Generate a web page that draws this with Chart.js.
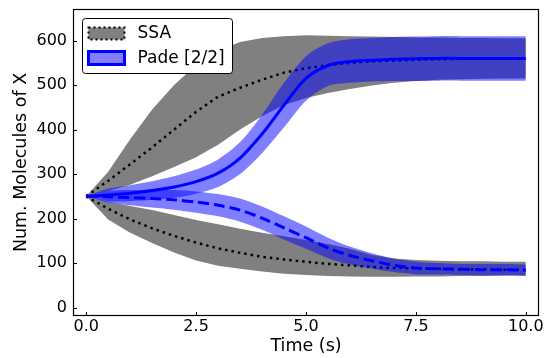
<!DOCTYPE html>
<html>
<head>
<meta charset="utf-8">
<script src="https://cdn.jsdelivr.net/npm/chart.js@4.4.0/dist/chart.umd.min.js"></script>
<style>
  html, body { margin: 0; padding: 0; background: #fff; }
</style>
</head>
<body>
<canvas id="chart" width="546" height="358"></canvas>
<script>
// sampled every 0.5 s
const times = [0, 0.5, 1, 1.5, 2, 2.5, 3, 3.5, 4, 4.5, 5, 5.5, 6, 6.5, 7, 7.5, 8, 8.5, 9, 9.5, 10];

// SSA, species going up
const ssaHighMean  = [250, 285, 322, 360, 400, 440, 474, 494, 512, 528, 538, 545, 550, 553, 555, 557, 558, 559, 559, 560, 560];
const ssaHighUpper = [250, 305, 378, 445, 500, 545, 578, 597, 606, 610, 612, 611, 610, 609, 608, 607, 607, 606, 606, 605, 605];
const ssaHighLower = [250, 262, 276, 295, 316, 338, 366, 400, 430, 455, 471, 482, 491, 499, 505, 509, 512, 513, 514, 515, 515];
// SSA, species going down
const ssaLowMean  = [250, 222, 198, 178, 161, 146, 133, 123, 114, 108, 103, 98, 95, 91, 89, 88, 87, 86, 86, 85, 85];
const ssaLowUpper = [250, 238, 228, 219, 208, 197, 187, 177, 168, 160, 152, 143, 132, 118, 110, 107, 105, 104, 104, 103, 103];
const ssaLowLower = [250, 198, 168, 145, 124, 106, 94, 87, 81, 76, 73, 71, 70, 69, 69, 70, 70, 71, 71, 72, 72];

// Pade [2/2]
const padeHighMean  = [250, 253, 257, 263, 271, 283, 302, 336, 390, 455, 515, 544, 553, 556, 558, 559, 560, 560, 560, 560, 560];
const padeHighUpper = [250, 267, 275, 284, 295, 310, 333, 372, 433, 505, 565, 594, 603, 606, 608, 609, 610, 610, 610, 610, 610];
const padeHighLower = [250, 239, 239, 242, 247, 256, 271, 300, 347, 405, 465, 498, 505, 508, 509, 509, 510, 510, 510, 510, 510];
const padeLowMean  = [250, 249, 247, 245, 242, 237, 230, 219, 201, 179, 157, 134, 117, 105, 95, 89, 87, 86, 85, 85, 84];
const padeLowUpper = [250, 262, 264, 265, 264, 261, 255, 245, 227, 205, 182, 157, 137, 122, 110, 103, 100, 98, 98, 98, 97];
const padeLowLower = [250, 236, 230, 225, 220, 213, 205, 193, 175, 153, 132, 111, 97, 88, 80, 75, 74, 73, 72, 72, 71];

const xTicks = [0, 2.5, 5, 7.5, 10];
const yTicks = [0, 100, 200, 300, 400, 500, 600];

const FONT = 'DejaVu Sans';
const GRAY = '#808080';
const BLUE = '#0000ff';
const BLUE_FILL = 'rgba(0, 0, 255, 0.5)';

function pts(ys) {
  return ys.map((y, i) => ({ x: times[i], y: y }));
}

function band(ys, color, fill, order, tension) {
  return {
    data: pts(ys),
    borderColor: 'transparent',
    borderWidth: 0,
    backgroundColor: color,
    fill: fill,
    pointRadius: 0,
    tension: tension,
    order: order
  };
}

function noPad(s) {
  s.paddingTop = 0; s.paddingBottom = 0;
  s.paddingLeft = 0; s.paddingRight = 0;
}

// inward ticks + full box frame
const framePlugin = {
  id: 'frame',
  afterDatasetsDraw(chart) {
    const { ctx, chartArea: a, scales } = chart;
    ctx.save();
    ctx.strokeStyle = '#000';
    ctx.lineWidth = 1;
    ctx.beginPath();
    xTicks.forEach(v => {
      const px = Math.round(scales.x.getPixelForValue(v)) + 0.5;
      ctx.moveTo(px, a.bottom);
      ctx.lineTo(px, a.bottom - 4);
    });
    yTicks.forEach(v => {
      const py = Math.round(scales.y.getPixelForValue(v)) + 0.5;
      ctx.moveTo(a.left, py);
      ctx.lineTo(a.left + 4, py);
    });
    ctx.stroke();
    ctx.lineWidth = 1.2;
    ctx.strokeRect(a.left + 0.5, a.top + 0.5, a.right - a.left - 1, a.bottom - a.top - 1);
    ctx.restore();
  }
};

const legendPlugin = {
  id: 'boxLegend',
  afterDraw(chart) {
    const { ctx, chartArea: a } = chart;
    const x0 = a.left + 9.5, y0 = a.top + 9.5, w = 150, h = 55, r = 3;
    ctx.save();
    ctx.beginPath();
    ctx.moveTo(x0 + r, y0);
    ctx.arcTo(x0 + w, y0, x0 + w, y0 + h, r);
    ctx.arcTo(x0 + w, y0 + h, x0, y0 + h, r);
    ctx.arcTo(x0, y0 + h, x0, y0, r);
    ctx.arcTo(x0, y0, x0 + w, y0, r);
    ctx.closePath();
    ctx.fillStyle = '#fff';
    ctx.fill();
    ctx.strokeStyle = '#000';
    ctx.lineWidth = 1;
    ctx.stroke();

    // SSA patch
    ctx.fillStyle = GRAY;
    ctx.fillRect(x0 + 6, y0 + 9, 36, 12);
    ctx.setLineDash([2, 3]);
    ctx.lineWidth = 2;
    ctx.strokeStyle = '#000';
    ctx.strokeRect(x0 + 6, y0 + 9, 36, 12);
    ctx.setLineDash([]);

    // Pade patch
    ctx.fillStyle = BLUE_FILL;
    ctx.fillRect(x0 + 6, y0 + 33, 36, 13);
    ctx.lineWidth = 3;
    ctx.strokeStyle = BLUE;
    ctx.strokeRect(x0 + 6, y0 + 33, 36, 13);

    ctx.fillStyle = '#000';
    ctx.font = '17px "' + FONT + '"';
    ctx.textBaseline = 'middle';
    ctx.fillText('SSA', x0 + 55, y0 + 15);
    ctx.fillText('Pade [2/2]', x0 + 55, y0 + 40);
    ctx.restore();
  }
};

new Chart(document.getElementById('chart'), {
  type: 'line',
  data: {
    datasets: [
      band(ssaHighUpper, GRAY, '+1', 10, 0),
      band(ssaHighLower, GRAY, false, 10, 0),
      band(ssaLowUpper, GRAY, '+1', 10, 0),
      band(ssaLowLower, GRAY, false, 10, 0),
      {
        data: pts(ssaHighMean), borderColor: '#000', borderWidth: 2.5,
        borderDash: [2.5, 4], pointRadius: 0, tension: 0, fill: false, order: 8
      },
      {
        data: pts(ssaLowMean), borderColor: '#000', borderWidth: 2.5,
        borderDash: [2.5, 4], pointRadius: 0, tension: 0, fill: false, order: 8
      },
      band(padeHighUpper, BLUE_FILL, '+1', 6, 0.3),
      band(padeHighLower, BLUE_FILL, false, 6, 0.3),
      band(padeLowUpper, BLUE_FILL, '+1', 6, 0.3),
      band(padeLowLower, BLUE_FILL, false, 6, 0.3),
      {
        data: pts(padeHighMean), borderColor: BLUE, borderWidth: 3,
        pointRadius: 0, tension: 0.3, fill: false, order: 4
      },
      {
        data: pts(padeLowMean), borderColor: BLUE, borderWidth: 3, borderDash: [11, 5],
        pointRadius: 0, tension: 0.3, fill: false, order: 4
      }
    ]
  },
  options: {
    responsive: false,
    animation: false,
    devicePixelRatio: 1,
    layout: { padding: { top: 9, right: 7, left: 0, bottom: 0 } },
    plugins: { legend: { display: false }, tooltip: { enabled: false } },
    scales: {
      x: {
        type: 'linear', min: -0.3, max: 10.3,
        grid: { display: false, drawTicks: false },
        border: { display: false },
        afterBuildTicks: s => { s.ticks = xTicks.map(v => ({ value: v })); },
        afterFit: s => { s.height = 42; noPad(s); },
        ticks: {
          color: '#000', padding: 1, maxRotation: 0,
          font: { family: FONT, size: 16 },
          callback: v => v.toFixed(1)
        },
        title: {
          display: true, text: 'Time (s)', color: '#000',
          font: { family: FONT, size: 17.5 }, padding: { top: 0, bottom: 1.5 }
        }
      },
      y: {
        type: 'linear', min: -19, max: 671,
        grid: { display: false, drawTicks: false },
        border: { display: false },
        afterBuildTicks: s => { s.ticks = yTicks.map(v => ({ value: v })); },
        afterFit: s => { s.width = 73; noPad(s); },
        ticks: {
          color: '#000', padding: 6,
          font: { family: FONT, size: 16 }
        },
        title: {
          display: true, text: 'Num. Molecules of X', color: '#000',
          font: { family: FONT, size: 17.5 }, padding: { top: 11, bottom: 0 }
        }
      }
    }
  },
  plugins: [framePlugin, legendPlugin]
});
</script>
</body>
</html>
